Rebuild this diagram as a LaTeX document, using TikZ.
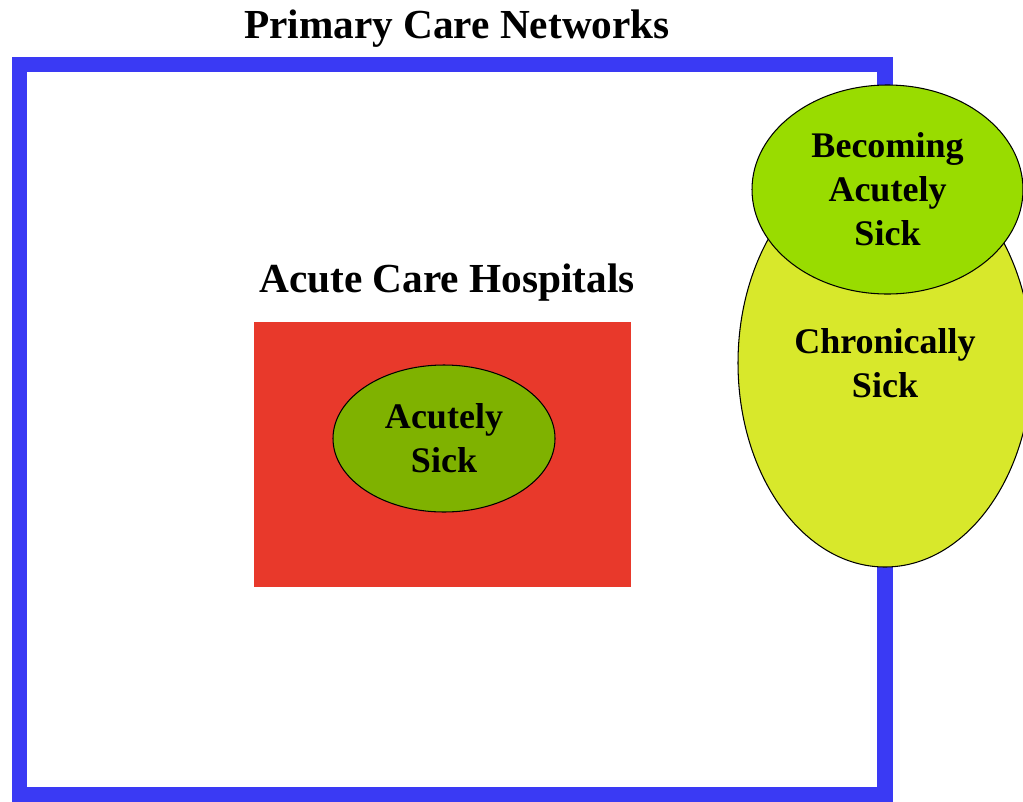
\documentclass[tikz,border=0pt]{standalone}
\usepackage{fontspec}
\setmainfont{Liberation Serif}
\usetikzlibrary{shapes.geometric}
\definecolor{netblue}{HTML}{3A3AF4}
\definecolor{hosred}{HTML}{E8392B}
\definecolor{acgreen}{HTML}{7FB200}
\definecolor{begreen}{HTML}{99DC00}
\definecolor{chyellow}{HTML}{D8E82B}
\tikzset{
  head/.style={anchor=base, font=\fontsize{23.5pt}{28pt}\selectfont\bfseries},
  blob/.style={ellipse, draw=black, line width=0.6pt, inner sep=0pt, align=center,
    font=\fontsize{20.5pt}{25pt}\selectfont\bfseries}
}
\begin{document}
\begin{tikzpicture}[x=0.02cm, y=-0.02cm]
\useasboundingbox (0,0) rectangle (1023,801);
\clip (0,0) rectangle (1023,801);
% network frame
\draw[netblue, line width=9.1pt] (19.5,64.5) rectangle (885,795);
\node[head] (N) at (457,38) {Primary Care Networks};
% hospitals
\fill[hosred] (254,322) rectangle (631,587);
\node[head] (H) at (447,292) {Acute Care Hospitals};
\node[blob, fill=acgreen, minimum width=222*0.02cm, minimum height=147*0.02cm] (A) at (444,438.5) {Acutely\\Sick};
% outside the hospitals
\node[blob, fill=chyellow, minimum width=294*0.02cm, minimum height=408*0.02cm] (C) at (885,363) {Chronically\\Sick};
\node[blob, fill=begreen, minimum width=271*0.02cm, minimum height=209*0.02cm] (B) at (887.5,189.5) {Becoming\\Acutely\\Sick};
\end{tikzpicture}
\end{document}
